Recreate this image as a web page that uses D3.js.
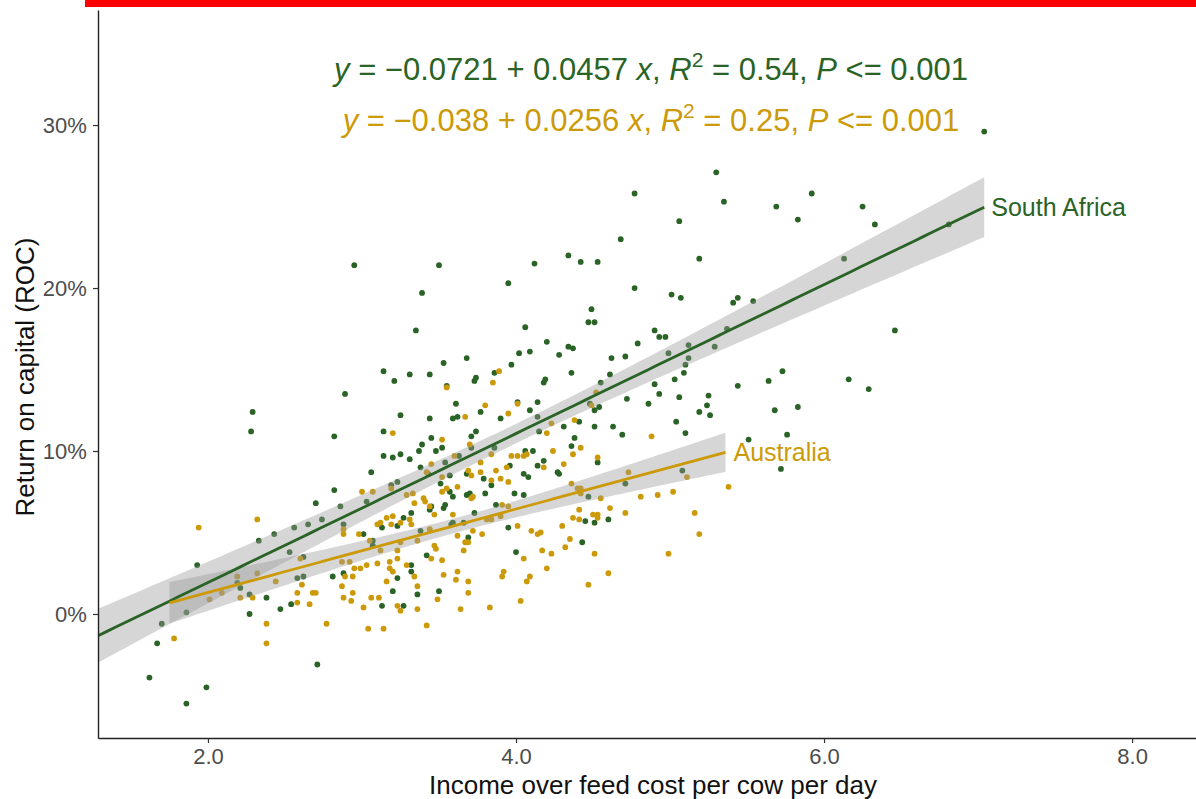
<!DOCTYPE html>
<html>
<head>
<meta charset="utf-8">
<script src="https://cdn.jsdelivr.net/npm/d3@7"></script>
<style>
  body { margin: 0; background: #fff; }
  svg { display: block; font-family: "Liberation Sans", Arial, sans-serif; }
</style>
</head>
<body>
<div id="chart"></div>
<script>
// income over feed cost (x) vs return on capital in % (y)
const southAfrica = [
  [2.82,7.6],[2.70,6.8],[2.86,6.6],[3.03,6.9],[2.56,5.3],[2.65,5.5],[2.74,5.8],[2.88,5.5],[2.43,4.9],[2.33,4.5],
  [1.93,3.0],[2.53,3.8],[2.62,3.5],[3.01,4.9],[3.07,4.5],[2.19,1.9],[2.21,1.6],[2.27,1.2],[2.38,1.0],[2.58,2.2],
  [2.62,2.3],[2.81,2.3],[2.88,2.5],[1.86,0.1],[1.70,-0.6],[1.67,-1.8],[2.47,0.3],[2.54,0.6],[2.27,0.0],[2.71,-3.1],
  [1.62,-3.9],[1.99,-4.5],[1.86,-5.5],
  [2.95,21.4],[3.50,21.4],[3.39,19.7],[3.35,17.4],[3.53,15.4],[3.14,14.9],[3.21,14.3],[3.31,14.7],[3.44,14.7],[3.55,14.0],
  [2.89,13.5],[3.61,12.9],[2.29,12.4],[2.28,11.2],[3.25,12.2],[3.44,12.0],[3.59,12.0],[3.62,12.1],[2.82,10.9],[3.14,11.2],
  [3.39,10.4],[3.45,10.8],[3.37,10.0],[3.48,10.0],[3.52,10.2],[3.14,9.7],[3.20,9.6],[3.25,9.8],[3.31,9.5],[3.38,9.0],
  [3.06,8.7],[3.54,9.3],[3.57,8.5],[3.23,8.1],[3.19,7.9],[3.51,8.0],
  [4.20,16.7],[4.02,16.0],[4.09,16.1],[4.28,15.9],[3.68,15.7],[3.97,15.3],[3.74,14.5],[3.73,14.3],[3.86,14.8],[4.18,14.2],
  [4.19,14.4],[4.01,13.0],[4.14,13.0],[3.77,12.4],[4.09,12.5],[3.90,12.0],[4.14,12.1],[3.74,11.2],[3.71,10.9],[4.15,11.2],
  [3.71,10.2],[3.86,10.2],[4.06,10.0],[4.11,10.0],[3.63,9.7],[3.96,9.1],[4.14,9.1],[4.18,9.4],[3.43,8.6],[3.68,8.6],
  [4.05,8.6],[4.08,8.4],[4.27,8.7],[3.79,8.3],[3.84,7.9],[3.57,7.5],[3.59,7.2],[3.68,7.3],[3.70,7.4],[3.80,7.4],
  [3.99,7.4],[4.05,7.3],
  [3.45,6.6],[3.44,6.4],[3.53,6.5],[3.54,6.7],[3.73,6.2],[3.87,6.7],[3.32,6.2],[3.27,5.9],[3.13,5.3],[3.23,5.4],
  [3.38,5.1],[3.58,5.5],[3.59,5.6],[3.66,5.6],[3.95,5.3],[3.07,4.2],[3.69,4.7],[4.00,3.8],[3.42,3.6],[3.32,3.0],
  [3.32,2.6],[3.23,2.2],[3.20,1.4],[3.50,1.4],[3.36,1.2],[3.13,0.5],[3.27,0.5],
  [4.34,16.4],[4.37,16.3],[4.79,16.6],[4.62,15.7],[4.71,15.8],[5.12,16.5],[5.29,16.4],[4.99,16.0],[5.12,15.7],[5.10,15.3],
  [4.36,14.8],[4.61,14.7],[5.09,14.8],[4.55,14.2],[5.03,14.4],[4.90,14.1],[4.93,13.5],[5.44,14.0],[4.48,12.9],[4.54,12.7],
  [4.51,12.5],[4.72,13.2],[4.86,12.9],[5.06,13.3],[5.25,13.4],[5.24,12.8],[5.19,12.4],[5.26,12.2],[4.41,11.8],[4.31,11.5],
  [4.51,11.5],[4.63,11.5],[5.04,11.8],[4.69,11.0],[5.10,11.1],[4.38,10.8],[4.36,10.3],[4.53,9.3],[4.28,8.6],[4.47,7.2],
  [4.71,8.0],[5.08,8.8],[4.45,5.7],[4.51,5.6],[4.60,5.8],[4.43,4.4],
  [5.30,27.1],[5.35,25.3],[4.77,25.8],[5.06,24.1],[4.68,23.0],[5.19,21.8],[4.12,21.5],[4.34,22.0],[4.42,21.6],[4.53,21.6],
  [3.95,20.3],[4.77,20.0],[5.01,19.6],[5.07,19.4],[4.49,18.7],[4.47,17.9],[4.51,17.9],[4.06,17.6],[4.90,17.4],[4.93,17.0],
  [4.97,17.0],[5.41,19.1],[5.44,19.4],[5.37,17.5],
  [7.04,29.6],[5.92,25.8],[5.69,25.0],[5.83,24.2],[6.25,25.0],[6.33,23.9],[6.81,23.9],[6.13,21.8],[5.54,19.2],[6.46,17.4],
  [5.73,14.9],[5.64,14.3],[6.16,14.4],[6.29,13.8],[5.68,12.5],[5.83,12.7],[5.51,10.7],[5.76,11.0],[5.72,8.9]
];

const australia = [
  [1.94,5.3],[2.32,5.8],[3.00,7.5],[3.07,7.5],[3.12,5.6],[2.88,5.2],[2.88,4.9],[2.98,4.9],[3.05,4.5],[3.12,3.9],
  [2.60,3.4],[2.87,3.2],[2.92,3.2],[2.95,2.8],[2.99,2.8],[3.03,3.0],[3.10,3.1],[2.19,2.3],[2.32,2.5],[2.44,2.0],
  [2.61,1.8],[2.58,1.3],[2.68,1.3],[2.70,1.3],[2.87,1.7],[2.89,2.3],[2.94,2.3],[2.01,0.9],[2.09,1.3],[2.21,1.0],
  [2.29,1.0],[2.58,0.7],[2.66,0.6],[2.88,1.0],[2.94,1.3],[2.93,0.8],[3.01,0.4],[3.06,1.0],[3.11,1.0],[2.38,-0.6],
  [2.38,-1.8],[1.78,-1.5],[2.77,-0.6],[3.04,-0.9],
  [3.55,13.9],[3.20,11.1],[3.52,10.7],[3.45,9.2],[3.29,7.3],[3.33,7.4],[3.40,7.1],[3.52,8.4],[3.52,7.5],[3.55,7.7],
  [3.62,7.8],[3.42,8.7],
  [3.89,14.9],[3.85,14.2],[3.80,12.8],[4.01,12.9],[3.95,12.3],[3.67,12.1],[4.23,11.7],[4.20,11.1],[3.70,10.4],[4.24,10.0],
  [3.97,9.7],[4.01,9.7],[4.05,9.7],[4.07,9.8],[3.84,9.8],[3.60,9.7],[3.77,9.3],[4.18,9.0],[3.69,8.8],[3.71,8.5],
  [3.87,8.8],[3.94,9.0],[3.77,8.7],[3.84,8.2],[3.90,8.3],[3.95,8.1],[3.72,7.2],[3.19,7.7],
  [3.41,6.9],[3.44,6.6],[3.34,6.8],[3.71,7.1],[3.91,6.7],[3.95,6.6],[3.20,6.0],[3.16,5.9],[3.25,5.6],[3.19,5.5],
  [3.31,5.8],[3.32,5.5],[3.47,6.1],[3.59,6.1],[3.10,5.5],[3.44,5.2],[3.72,5.1],[3.78,4.9],[3.81,5.8],[3.84,5.8],
  [3.90,6.0],[4.01,5.4],[4.10,5.1],[4.14,4.9],[3.62,4.8],[3.67,4.4],[3.69,4.4],[3.66,3.9],[3.36,4.5],[3.25,4.4],
  [3.47,4.2],[3.48,4.0],[3.23,3.9],[3.45,3.4],[3.52,3.3],[3.23,3.4],[3.18,3.2],[3.18,2.8],[3.20,2.6],[3.29,3.0],
  [3.34,2.3],[4.17,3.9],[4.23,3.7],[4.05,3.4],[4.20,2.8],[3.92,2.6],[3.91,2.3],[4.09,2.3],[4.07,2.0],[3.62,2.6],
  [3.53,2.4],[3.61,2.1],[3.69,2.0],[3.16,2.0],[3.36,1.7],[3.69,1.3],[3.49,0.9],[3.23,0.5],[3.25,0.2],[3.36,0.3],
  [3.64,0.3],[3.83,0.4],[4.03,0.8],[3.14,-0.9],[3.42,-0.7],
  [4.52,13.6],[4.49,12.8],[4.38,11.9],[4.88,10.9],[4.42,10.2],[4.37,9.8],[4.53,9.6],[4.31,9.2],[4.36,8.0],[4.40,7.7],
  [4.42,7.7],[4.42,7.4],[4.55,7.1],[4.73,8.7],[5.11,8.4],[4.81,7.2],[4.92,7.3],[5.02,7.5],[5.38,7.8],[5.16,6.2],
  [5.19,4.9],[4.41,6.4],[4.61,6.5],[4.71,6.2],[4.50,6.1],[4.53,6.1],[4.53,5.9],[4.37,5.9],[4.41,5.8],[4.30,5.4],
  [4.16,5.0],[4.35,4.6],[4.32,4.1],[4.51,3.7],[4.99,3.7],[4.60,2.5],[4.47,1.8]
];

// fitted lines as printed on the chart: [intercept, slope, R2]
const saFit = [-0.0721, 0.0457, 0.54];
const auFit = [-0.038, 0.0256, 0.25];
const saRange = [1.29, 7.04];
const auRange = [1.75, 5.36];

const xTicks = [2, 4, 6, 8];
const yTicks = [0, 10, 20, 30];

const saColor = "#2a6326";
const auColor = "#cc9a08";

const W = 1196, H = 799;
const m = { left: 98, right: 1196, top: 10, bottom: 738 };

const svg = d3.select("#chart").append("svg")
    .attr("width", W)
    .attr("height", H);

// red strip along the top edge
svg.append("rect")
    .attr("x", 85).attr("y", 0)
    .attr("width", W - 85).attr("height", 7)
    .attr("fill", "#ff0000");

const x = d3.scaleLinear().domain([1.286, 8.415]).range([m.left, m.right]);
const y = d3.scaleLinear().domain([-7.61, 37.06]).range([m.bottom, m.top]);

svg.append("clipPath").attr("id", "panel")
  .append("rect")
    .attr("x", m.left).attr("y", m.top)
    .attr("width", m.right - m.left).attr("height", m.bottom - m.top);

const panel = svg.append("g").attr("clip-path", "url(#panel)");

// points
[[southAfrica, saColor], [australia, auColor]].forEach(([pts, col]) => {
    panel.append("g").selectAll("circle")
        .data(pts)
        .enter().append("circle")
        .attr("cx", d => x(d[0]))
        .attr("cy", d => y(d[1]))
        .attr("r", 2.9)
        .attr("fill", col);
});

// confidence band, lm style
function band(pts, fit, range) {
    const f = v => 100 * (fit[0] + fit[1] * v);
    const n = pts.length;
    const xbar = d3.mean(pts, d => d[0]);
    const sxx = d3.sum(pts, d => (d[0] - xbar) ** 2);
    const s = Math.sqrt(d3.sum(pts, d => (d[1] - f(d[0])) ** 2) / (n - 2));
    const t = 1.97;
    return d3.range(101).map(i => {
        const xv = range[0] + (range[1] - range[0]) * i / 100;
        const se = s * Math.sqrt(1 / n + (xv - xbar) ** 2 / sxx);
        return { x: xv, fit: f(xv), lo: f(xv) - t * se, hi: f(xv) + t * se };
    });
}

const area = d3.area().x(d => x(d.x)).y0(d => y(d.lo)).y1(d => y(d.hi));
const line = d3.line().x(d => x(d.x)).y(d => y(d.fit));

const saBand = band(southAfrica, saFit, saRange);
const auBand = band(australia, auFit, auRange);

[saBand, auBand].forEach(b => {
    panel.append("path").attr("d", area(b))
        .attr("fill", "#999999").attr("fill-opacity", 0.4);
});
[[saBand, saColor], [auBand, auColor]].forEach(([b, col]) => {
    panel.append("path").attr("d", line(b))
        .attr("fill", "none").attr("stroke", col).attr("stroke-width", 2.8);
});

// axes
const xAxis = d3.axisBottom(x).tickValues(xTicks).tickFormat(d3.format(".1f")).tickSize(5).tickSizeOuter(0);
const yAxis = d3.axisLeft(y).tickValues(yTicks).tickFormat(d => d + "%").tickSize(5).tickSizeOuter(0);

const gx = svg.append("g").attr("transform", `translate(0,${m.bottom})`).call(xAxis);
const gy = svg.append("g").attr("transform", `translate(${m.left},0)`).call(yAxis);

[gx, gy].forEach(g => {
    g.select(".domain").attr("stroke", "#222").attr("stroke-width", 1.4);
    g.selectAll(".tick line").attr("stroke", "#333").attr("stroke-width", 1.2);
    g.selectAll(".tick text")
        .attr("fill", "#4d4d4d")
        .style("font-size", "22px")
        .style("font-family", "Liberation Sans, Arial, sans-serif");
});
gx.selectAll(".tick text").attr("dy", "0.82em");
gy.selectAll(".tick text").attr("dx", "-0.15em");

svg.append("text")
    .attr("x", 653)
    .attr("y", 794)
    .attr("text-anchor", "middle")
    .style("font-size", "26px")
    .attr("fill", "#111")
    .text("Income over feed cost per cow per day");

svg.append("text")
    .attr("transform", "translate(34,377) rotate(-90)")
    .attr("text-anchor", "middle")
    .style("font-size", "26px")
    .attr("fill", "#111")
    .text("Return on capital (ROC)");

// equations
function equation(fit, yy, col) {
    const t = svg.append("text")
        .attr("x", 651).attr("y", yy)
        .attr("text-anchor", "middle")
        .attr("fill", col)
        .style("font-size", "31px");
    const part = (s, it) => t.append("tspan").text(s).style("font-style", it ? "italic" : "normal");
    part("y", true);
    part(" = \u2212" + Math.abs(fit[0]) + " + " + fit[1] + " ");
    part("x", true);
    part(", ");
    part("R", true);
    t.append("tspan").text("2").attr("dy", -13).style("font-size", "21px");
    t.append("tspan").text(" = " + fit[2].toFixed(2) + ", ").attr("dy", 13);
    part("P", true);
    part(" <= 0.001");
}
equation(saFit, 80, saColor);
equation(auFit, 131, auColor);

// series labels at line ends
const saEnd = saBand[saBand.length - 1];
const auEnd = auBand[auBand.length - 1];
svg.append("text")
    .attr("x", x(saEnd.x) + 7).attr("y", y(saEnd.fit))
    .attr("dy", "0.36em")
    .attr("fill", saColor)
    .style("font-size", "25px")
    .text("South Africa");
svg.append("text")
    .attr("x", x(auEnd.x) + 8).attr("y", y(auEnd.fit))
    .attr("dy", "0.36em")
    .attr("fill", auColor)
    .style("font-size", "25px")
    .text("Australia");
</script>
</body>
</html>
